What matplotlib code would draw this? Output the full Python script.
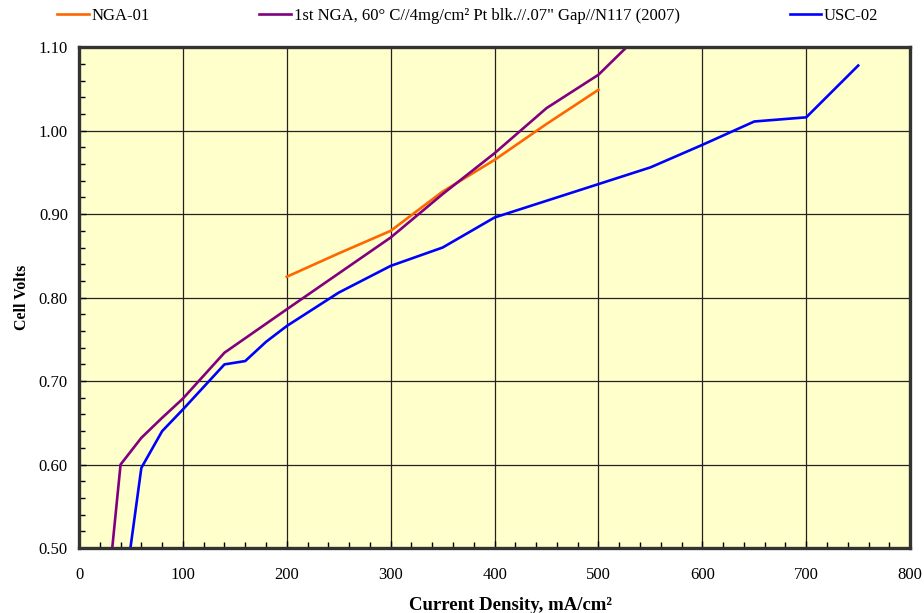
import matplotlib
matplotlib.use("Agg")
import matplotlib.pyplot as plt
from matplotlib.ticker import MultipleLocator, FormatStrFormatter

plt.rcParams['font.family'] = ['Liberation Serif', 'DejaVu Serif']

nga01_x = [200, 250, 300, 350, 400, 450, 500]
nga01_y = [0.825, 0.853, 0.880, 0.927, 0.965, 1.008, 1.049]

nga1st_x = [32, 40, 60, 80, 100, 140, 200, 300, 350, 400, 450, 500, 550]
nga1st_y = [0.50, 0.600, 0.632, 0.656, 0.679, 0.734, 0.786, 0.872, 0.924, 0.973, 1.027, 1.067, 1.128]

usc02_x = [49.5, 60, 80, 100, 140, 160, 180, 200, 250, 300, 350, 400, 500, 550, 600, 650, 700, 750]
usc02_y = [0.50, 0.596, 0.640, 0.666, 0.720, 0.724, 0.747, 0.766, 0.806, 0.838, 0.860, 0.896, 0.936, 0.956, 0.983, 1.011, 1.016, 1.078]

labels = ['NGA-01', '1st NGA, 60\u00b0 C//4mg/cm\u00b2 Pt blk.//.07" Gap//N117 (2007)', 'USC-02']

fig = plt.figure(figsize=(9.24, 6.13), dpi=100)
ax = fig.add_axes([0.0855, 0.106, 0.8995, 0.817])
ax.set_facecolor('#FFFFCC')

l1, = ax.plot(nga01_x, nga01_y, color='#FF6600', lw=1.9, label=labels[0])
l2, = ax.plot(nga1st_x, nga1st_y, color='#800080', lw=1.9, label=labels[1])
l3, = ax.plot(usc02_x, usc02_y, color='#0000FF', lw=1.9, label=labels[2])

ax.set_xlim(0, 800)
ax.set_ylim(0.5, 1.1)
ax.xaxis.set_major_locator(MultipleLocator(100))
ax.xaxis.set_minor_locator(MultipleLocator(20))
ax.yaxis.set_major_locator(MultipleLocator(0.1))
ax.yaxis.set_minor_locator(MultipleLocator(0.02))
ax.yaxis.set_major_formatter(FormatStrFormatter('%.2f'))
ax.grid(True, which='major', color='#222222', lw=0.9)
ax.set_axisbelow(True)

for s in ax.spines.values():
    s.set_linewidth(2.4)
    s.set_color('#333333')

ax.tick_params(which='both', direction='in', labelsize=12, colors='#000000')
ax.tick_params(which='major', length=5, width=1)
ax.tick_params(which='minor', length=4, width=1)
ax.tick_params(axis='y', which='major', pad=8)
ax.tick_params(axis='x', which='major', pad=14)

ax.set_xlabel('Current Density, mA/cm\u00b2', fontsize=13.5, fontweight='bold', labelpad=10)
ax.xaxis.label.set_x((510 - 79) / 831)
ax.set_ylabel('Cell Volts', fontsize=11.5, fontweight='bold', labelpad=6)

fig.legend(handles=[l1, l2, l3], labels=labels, loc='center left',
           bbox_to_anchor=(57 / 924, 1 - 16 / 613), ncol=3, frameon=False,
           fontsize=12, handlelength=1.9, handletextpad=0.15,
           columnspacing=6.6, borderpad=0, borderaxespad=0)

fig.savefig('out.png', dpi=100)
